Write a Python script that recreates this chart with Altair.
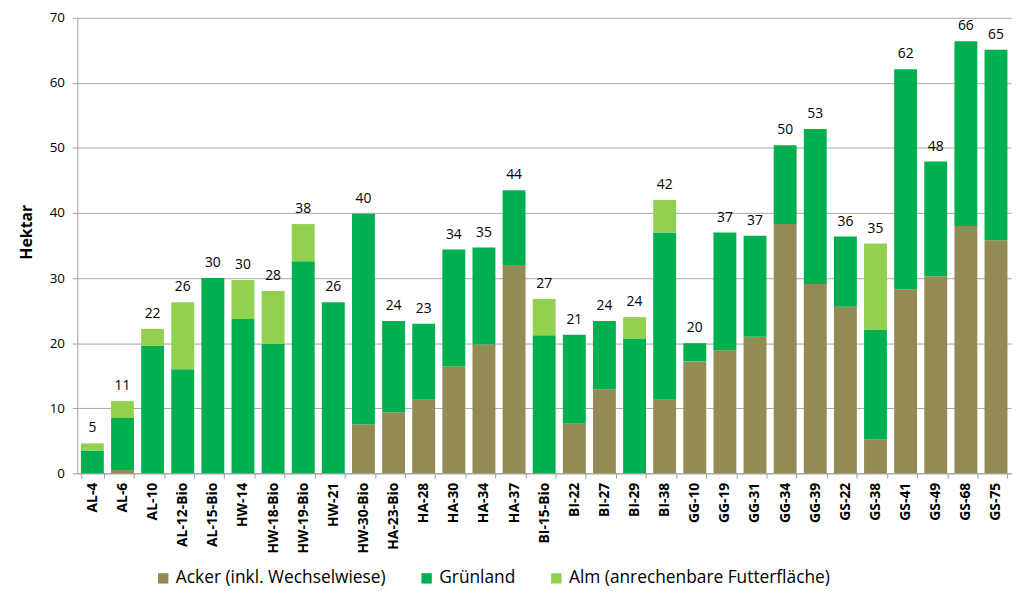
import altair as alt
import pandas as pd

categories = ["AL-4", "AL-6", "AL-10", "AL-12-Bio", "AL-15-Bio", "HW-14", "HW-18-Bio",
              "HW-19-Bio", "HW-21", "HW-30-Bio", "HA-23-Bio", "HA-28", "HA-30", "HA-34",
              "HA-37", "BI-15-Bio", "BI-22", "BI-27", "BI-29", "BI-38", "GG-10", "GG-19",
              "GG-31", "GG-34", "GG-39", "GS-22", "GS-38", "GS-41", "GS-49", "GS-68", "GS-75"]
acker = [0, 0.5, 0, 0, 0, 0, 0, 0, 0, 7.5, 9.4, 11.3, 16.4, 19.8, 32.0, 0, 7.6, 12.9, 0,
         11.3, 17.2, 18.9, 21.0, 38.3, 29.1, 25.6, 5.2, 28.3, 30.3, 38.0, 35.8]
gruenland = [3.5, 8.0, 19.6, 16.0, 30.0, 23.7, 19.9, 32.6, 26.3, 32.4, 14.0, 11.7, 18.0,
             14.9, 11.5, 21.2, 13.7, 10.5, 20.7, 25.7, 2.8, 18.1, 15.5, 12.1, 23.8, 10.8,
             16.9, 33.8, 17.6, 28.4, 29.3]
alm = [1.1, 2.6, 2.6, 10.3, 0, 6.0, 8.1, 5.7, 0, 0, 0, 0, 0, 0, 0, 5.6, 0, 0, 3.3, 5.0,
       0, 0, 0, 0, 0, 0, 13.2, 0, 0, 0, 0]
totals = [5, 11, 22, 26, 30, 30, 28, 38, 26, 40, 24, 23, 34, 35, 44, 27, 21, 24, 24, 42,
          20, 37, 37, 50, 53, 36, 35, 62, 48, 66, 65]

series = ["Acker (inkl. Wechselwiese)", "Grünland", "Alm (anrechenbare Futterfläche)"]
colors = ["#948A54", "#00B050", "#92D050"]

rows = []
for i, c in enumerate(categories):
    for k, (s, vals) in enumerate(zip(series, [acker, gruenland, alm])):
        rows.append({"cat": c, "serie": s, "val": vals[i], "ord": k})
df = pd.DataFrame(rows)

tot_df = pd.DataFrame({
    "cat": categories,
    "top": [a + g + m for a, g, m in zip(acker, gruenland, alm)],
    "label": [str(t) for t in totals],
})

FONT = "Open Sans"

xenc = alt.X("cat:N", sort=categories, title=None,
             scale=alt.Scale(paddingInner=0.24, paddingOuter=0.12),
             axis=alt.Axis(labelAngle=-90, labelFontWeight="bold", labelFontSize=14,
                           labelColor="#000000", labelFont=FONT, tickBand="extent",
                           domainColor="#A0A0A0", tickColor="#A0A0A0", tickSize=5,
                           labelPadding=4))

bars = alt.Chart(df).mark_bar().encode(
    x=xenc,
    y=alt.Y("val:Q", stack="zero", title="Hektar",
            scale=alt.Scale(domain=[0, 70], nice=False),
            axis=alt.Axis(values=list(range(0, 71, 10)), labelFontSize=13.5,
                          labelColor="#000000", labelFont=FONT, titleFont=FONT,
                          titleFontSize=16, titleFontWeight="bold", titleColor="#000000",
                          titlePadding=15, titleY=216, gridColor="#A6A6A6",
                          domainColor="#A0A0A0", tickColor="#A0A0A0", tickSize=5,
                          labelPadding=8)),
    color=alt.Color("serie:N", sort=series,
                    scale=alt.Scale(domain=series, range=colors),
                    legend=alt.Legend(orient="none", legendX=78, legendY=557,
                                      direction="horizontal", title=None,
                                      symbolType="square", labelLimit=0,
                                      symbolSize=110, labelFontSize=17.5, labelFont=FONT,
                                      labelColor="#000000", columnPadding=32,
                                      symbolStrokeWidth=0)),
    order=alt.Order("ord:Q"),
)

texts = alt.Chart(tot_df).mark_text(dy=-8, baseline="bottom", fontSize=14, font=FONT,
                                    color="#000000").encode(
    x=alt.X("cat:N", sort=categories),
    y=alt.Y("top:Q"),
    text="label:N",
)

chart = alt.layer(bars, texts).properties(
    width=943, height=460,
    padding={"top": 0, "left": 10, "right": 5, "bottom": 5},
).configure_view(stroke=None).configure_legend(labelFontSize=17.5, labelLimit=0)

chart.save("out.html", embed_options={"renderer": "svg", "actions": False})
